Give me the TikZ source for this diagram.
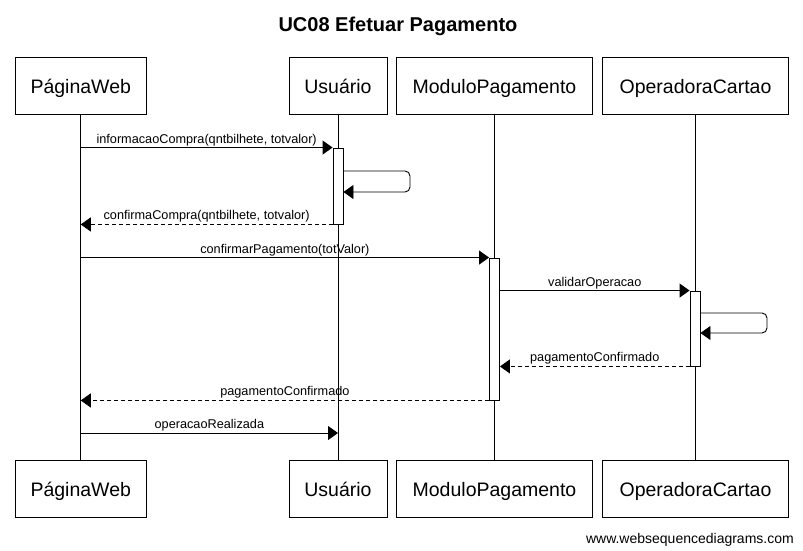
\documentclass[tikz,border=0pt]{standalone}
\usepackage{fontspec}
\setmainfont{Liberation Sans}
\usetikzlibrary{arrows.meta}
\begin{document}
\begin{tikzpicture}[x=1pt,y=-1pt,
  actor/.style={draw,line width=0.9pt,minimum height=57pt,inner sep=0pt,text height=18pt,text depth=2pt,font=\fontsize{19.5}{23}\selectfont},
  act/.style={draw,fill=white,line width=0.9pt,minimum width=10pt,inner sep=0pt},
  life/.style={line width=0.9pt},
  msg/.style={line width=0.9pt,-{Triangle[length=10pt,width=14pt]}},
  ret/.style={msg,dash pattern=on 4pt off 3pt},
  lbl/.style={anchor=base,yshift=4.5pt,inner sep=0pt,font=\fontsize{12.7}{15}\selectfont}]
\useasboundingbox (0,0) rectangle (803,551);
\node[anchor=base,font=\fontsize{20}{24}\selectfont\bfseries] (title) at (398,31.5) {UC08 Efetuar Pagamento};
% top actors
\node[actor,minimum width=131.5pt] (pw) at (80.75,85.5) {PáginaWeb};
\node[actor,minimum width=98pt] (us) at (338,85.5) {Usuário};
\node[actor,minimum width=196.5pt] (mp) at (494.5,85.5) {ModuloPagamento};
\node[actor,minimum width=186.5pt] (oc) at (695.5,85.5) {OperadoraCartao};
% bottom actors
\node[actor,minimum width=131.5pt] (pwb) at (80.75,488.5) {PáginaWeb};
\node[actor,minimum width=98pt] (usb) at (338,488.5) {Usuário};
\node[actor,minimum width=196.5pt] (mpb) at (494.5,488.5) {ModuloPagamento};
\node[actor,minimum width=186.5pt] (ocb) at (695.5,488.5) {OperadoraCartao};
% lifelines
\draw[life] (pw.south) -- (pwb.north);
\draw[life] (us.south) -- (usb.north);
\draw[life] (mp.south) -- (mpb.north);
\draw[life] (oc.south) -- (ocb.north);
% activations
\node[act,minimum height=76pt] (a1) at (338,186) {};
\node[act,minimum height=142pt] (a2) at (494.5,329) {};
\node[act,minimum height=75pt] (a3) at (695,328.5) {};
% coordinates
\coordinate (s1) at (410,171);
\coordinate (s2) at (767,313);
% messages
\draw[msg] (pw.south |- a1.north west) -- node[lbl] {informacaoCompra(qntbilhete, totvalor)} (a1.north west);
\draw[msg,rounded corners=5pt] (a1.east |- s1) -- (s1) -- (s1 |- 0,192) -- (a1.east |- 0,192);
\draw[ret] (a1.south west) -- node[lbl] {confirmaCompra(qntbilhete, totvalor)} (pw.south |- a1.south west);
\draw[msg] (pw.south |- a2.north west) -- node[lbl] {confirmarPagamento(totValor)} (a2.north west);
\draw[msg] (a2.east |- a3.north west) -- node[lbl] {validarOperacao} (a3.north west);
\draw[msg,rounded corners=5pt] (a3.east |- s2) -- (s2) -- (s2 |- 0,333) -- (a3.east |- 0,333);
\draw[ret] (a3.south west) -- node[lbl] {pagamentoConfirmado} (a2.east |- a3.south west);
\draw[ret] (a2.south west) -- node[lbl] {pagamentoConfirmado} (pw.south |- a2.south west);
\coordinate (m7) at (0,433);
\draw[msg] (pw.south |- m7) -- node[lbl] {operacaoRealizada} (us.south |- m7);
\node[anchor=base east,inner sep=0pt,font=\fontsize{14}{16}\selectfont] (foot) at (794,543) {www.websequencediagrams.com};
\end{tikzpicture}
\end{document}
